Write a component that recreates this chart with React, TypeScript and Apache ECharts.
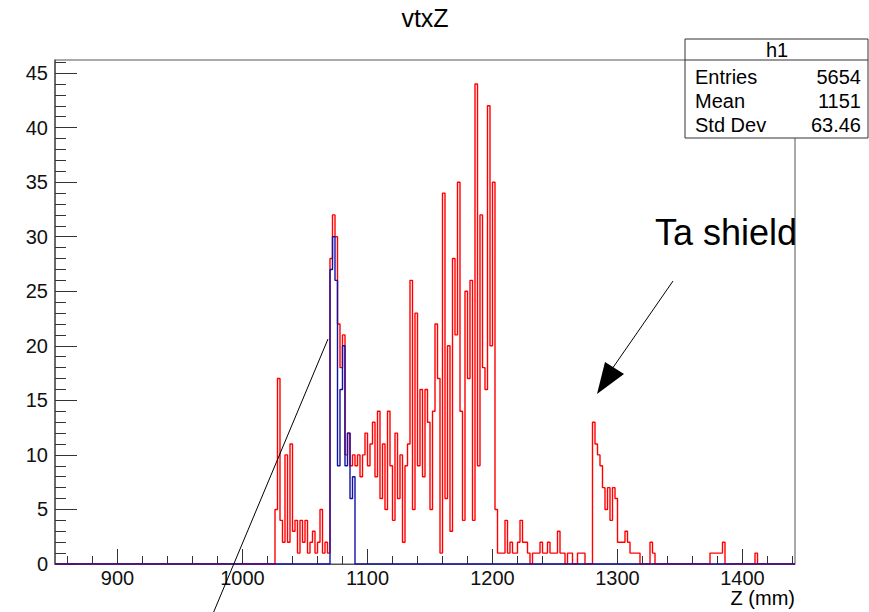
import React, { useEffect, useRef } from "react";
import * as echarts from "echarts";

// ---- axis ranges ----
const X_MIN = 850;
const X_MAX = 1442;
const Y_MIN = 0;
const Y_MAX = 46.2;
const BIN_WIDTH = 2;

// ---- ticks / labels ----
const xMajorTicks = [900, 1000, 1100, 1200, 1300, 1400];
const xMinorTicks = [
  860, 880, 920, 940, 960, 980, 1020, 1040, 1060, 1080, 1120, 1140, 1160, 1180,
  1220, 1240, 1260, 1280, 1320, 1340, 1360, 1380, 1420, 1440,
];
const yMajorTicks = [0, 5, 10, 15, 20, 25, 30, 35, 40, 45];
const yMinorTicks = [
  1, 2, 3, 4, 6, 7, 8, 9, 11, 12, 13, 14, 16, 17, 18, 19, 21, 22, 23, 24, 26, 27,
  28, 29, 31, 32, 33, 34, 36, 37, 38, 39, 41, 42, 43, 44, 46,
];

// ---- red histogram: bin contents, first bin starts at RED_START (2 mm bins) ----
const RED_START = 1026;
const redCounts = [
  // 1026 - 1068
  5, 17, 4, 2, 10, 2, 11, 3, 4, 1, 4, 2, 4, 1, 2, 3, 1, 2, 5, 1, 2, 1,
  // 1070 - 1100
  28, 32, 30, 22, 18, 21, 10, 12, 9, 10, 9, 10, 8, 10, 12, 9,
  // 1102 - 1150
  11, 13, 8, 14, 6, 11, 5, 14, 9, 4, 12, 6, 10, 2, 9, 11, 26, 5, 23, 9, 16, 8, 16, 13, 5,
  // 1152 - 1204
  14, 22, 17, 1, 34, 6, 20, 3, 28, 21, 35, 14, 4, 25, 17, 26, 4, 44, 9, 32, 18, 16, 42, 20, 35, 5, 1,
  // 1206 - 1278
  1, 1, 4, 1, 2, 1, 1, 2, 4, 2, 2, 1, 0, 1, 1, 1, 2, 1, 1, 2, 1, 1, 1, 3, 1, 1, 0, 1, 1, 0, 0, 1, 1, 1, 0, 0, 0,
  // 1280 - 1328
  13, 11, 10, 9, 7, 5, 7, 4, 7, 6, 2, 2, 2, 3, 2, 1, 1, 1, 1, 0, 0, 0, 0, 2, 1,
  // 1330 - 1372
  0, 0, 0, 0, 0, 0, 0, 0, 0, 0, 0, 0, 0, 0, 0, 0, 0, 0, 0, 0, 0, 0,
  // 1374 - 1410
  1, 1, 1, 1, 1, 2, 0, 0, 0, 0, 0, 0, 0, 0, 0, 0, 0, 0, 1,
];

// ---- blue histogram ----
const BLUE_START = 1070;
const blueCounts = [27, 30, 26, 9, 16, 20, 9, 12, 6, 8];

// ---- stats box ----
const statsTitle = "h1";
const statsLabels = ["Entries", "Mean", "Std Dev"];
const statsValues = ["5654", "1151", "63.46"];

function buildSteps(start: number, counts: number[]): number[][] {
  const pts: number[][] = [[X_MIN, 0]];
  counts.forEach((c, i) => pts.push([start + i * BIN_WIDTH, c]));
  pts.push([start + counts.length * BIN_WIDTH, 0]);
  pts.push([X_MAX, 0]);
  return pts;
}

const FONT = "Liberation Sans, Arial, Helvetica, sans-serif";

export default function App() {
  const ref = useRef<HTMLDivElement>(null);
  useEffect(() => {
    if (!ref.current) return;
    const chart = echarts.init(ref.current, undefined, { renderer: "svg" });
    const axisColor = "#555";
    const plain = (v: number) => String(v);
    const baseX = {
      type: "value" as const,
      min: X_MIN,
      max: X_MAX,
      position: "bottom" as const,
      splitLine: { show: false },
    };
    const baseY = {
      type: "value" as const,
      min: Y_MIN,
      max: Y_MAX,
      position: "left" as const,
      splitLine: { show: false },
    };
    const textEl = (
      text: string,
      x: number,
      y: number,
      size: number,
      align: string = "left"
    ) => ({
      type: "text",
      z: 100,
      style: {
        text,
        x,
        y,
        fill: "#000",
        font: `${size}px ${FONT}`,
        textAlign: align,
        textVerticalAlign: "middle",
      },
    });

    chart.setOption({
      animation: false,
      backgroundColor: "#fff",
      grid: {
        left: 55,
        right: 74,
        top: 60,
        bottom: 48,
        show: true,
        borderColor: axisColor,
        borderWidth: 1,
        backgroundColor: "transparent",
      },
      xAxis: [
        {
          ...baseX,
          axisLine: { show: true, onZero: false, lineStyle: { color: axisColor } },
          axisTick: {
            show: true,
            inside: true,
            length: 15,
            customValues: xMajorTicks,
            lineStyle: { color: "#333" },
          },
          axisLabel: {
            show: true,
            customValues: xMajorTicks,
            formatter: plain,
            fontSize: 20,
            fontFamily: FONT,
            color: "#111",
            margin: 4,
          },
        },
        {
          ...baseX,
          axisLine: { show: false, onZero: false },
          axisTick: {
            show: true,
            inside: true,
            length: 8,
            customValues: xMinorTicks,
            lineStyle: { color: "#333" },
          },
          axisLabel: { show: false },
        },
      ],
      yAxis: [
        {
          ...baseY,
          axisLine: { show: true, onZero: false, lineStyle: { color: axisColor, width: 1.5 } },
          axisTick: {
            show: true,
            inside: true,
            length: 22,
            customValues: yMajorTicks,
            lineStyle: { color: "#333" },
          },
          axisLabel: {
            show: true,
            customValues: yMajorTicks,
            formatter: plain,
            fontSize: 20,
            fontFamily: FONT,
            color: "#111",
            margin: 7,
          },
        },
        {
          ...baseY,
          axisLine: { show: false, onZero: false },
          axisTick: {
            show: true,
            inside: true,
            length: 11,
            customValues: yMinorTicks,
            lineStyle: { color: "#333" },
          },
          axisLabel: { show: false },
        },
      ],
      series: [
        {
          type: "line",
          name: "red",
          xAxisIndex: 0,
          yAxisIndex: 0,
          step: "end",
          showSymbol: false,
          symbol: "none",
          clip: true,
          lineStyle: { color: "#ff0000", width: 1.4 },
          data: buildSteps(RED_START, redCounts),
          z: 3,
        },
        {
          type: "line",
          name: "blue",
          xAxisIndex: 0,
          yAxisIndex: 0,
          step: "end",
          showSymbol: false,
          symbol: "none",
          clip: true,
          lineStyle: { color: "#1212a6", width: 1.4 },
          data: buildSteps(BLUE_START, blueCounts),
          z: 4,
        },
      ],
      graphic: [
        textEl("vtxZ", 425, 18, 25, "center"),
        textEl("Z (mm)", 795, 598, 20, "right"),
        textEl("Ta shield", 655, 232, 36, "left"),
        {
          type: "line",
          z: 100,
          shape: { x1: 673, y1: 281, x2: 612, y2: 369 },
          style: { stroke: "#000", lineWidth: 1 },
        },
        {
          type: "polygon",
          z: 100,
          shape: { points: [[597, 394], [605, 362], [624, 374]] },
          style: { fill: "#000" },
        },
        {
          type: "line",
          z: 100,
          shape: { x1: 328, y1: 339, x2: 212, y2: 616 },
          style: { stroke: "#000", lineWidth: 1 },
        },
        {
          type: "rect",
          z: 100,
          shape: { x: 685, y: 39, width: 183, height: 99 },
          style: { fill: "#fff", stroke: "#333", lineWidth: 1 },
        },
        {
          type: "line",
          z: 101,
          shape: { x1: 685, y1: 60, x2: 868, y2: 60 },
          style: { stroke: "#333", lineWidth: 1 },
        },
        textEl(statsTitle, 777, 50, 20, "center"),
        ...statsLabels.map((t, i) => textEl(t, 695, 76.5 + i * 24.2, 20, "left")),
        ...statsValues.map((t, i) => textEl(t, 861, 76.5 + i * 24.2, 20, "right")),
      ],
    });
    return () => chart.dispose();
  }, []);
  return (
    <div
      ref={ref}
      style={{ position: "absolute", left: 0, top: 0, width: 869, height: 612 }}
    />
  );
}
